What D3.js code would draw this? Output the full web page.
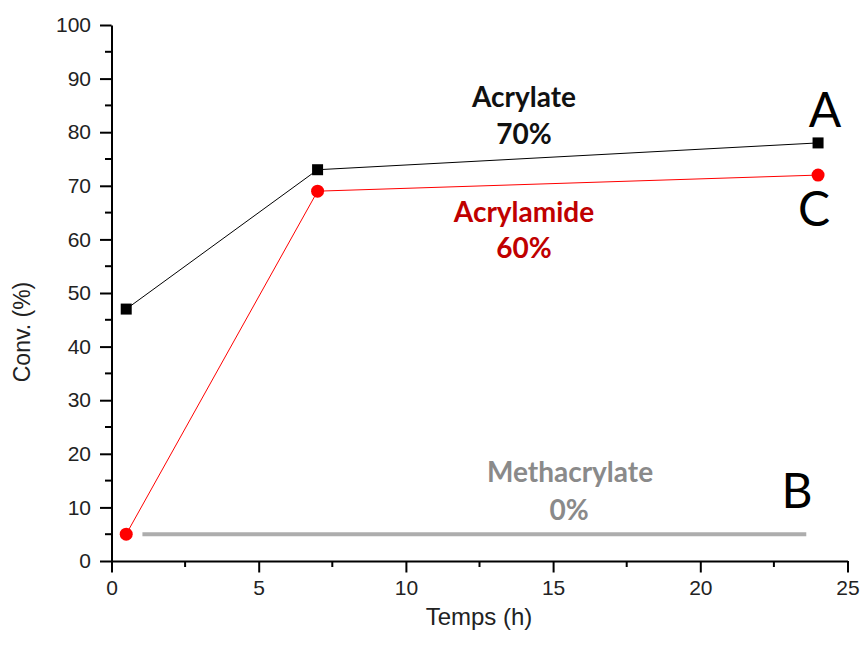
<!DOCTYPE html>
<html><head><meta charset="utf-8">
<script src="https://cdn.jsdelivr.net/npm/d3@7"></script>
<style>body{margin:0;background:#fff}</style>
</head><body>
<svg id="c" width="864" height="651"></svg>
<script>
const timesAcrylate = [0.5, 7, 24];
const convAcrylate = [47, 73, 78];
const timesAcrylamide = [0.5, 7, 24];
const convAcrylamide = [5, 69, 72];
const timesMethacrylate = [1.05, 23.6];
const convMethacrylate = [5, 5];
const xTicks = [0, 5, 10, 15, 20, 25];
const yTicks = [0, 10, 20, 30, 40, 50, 60, 70, 80, 90, 100];

const svg = d3.select("#c");
const x = d3.scaleLinear().domain([0, 25]).range([111.5, 847.5]);
const y = d3.scaleLinear().domain([0, 100]).range([561, 25]);
const font = "'Liberation Sans', Arial, sans-serif";
const lblFont = "Lato, 'Open Sans', sans-serif";

// minor ticks
const minorX = d3.range(2.5, 25, 5);
const minorY = d3.range(5, 100, 10);
svg.append("g").selectAll("line").data(minorX).join("line")
  .attr("x1", d => x(d)).attr("x2", d => x(d)).attr("y1", 561).attr("y2", 567)
  .attr("stroke", "#000").attr("stroke-width", 2);
svg.append("g").selectAll("line").data(minorY).join("line")
  .attr("y1", d => y(d)).attr("y2", d => y(d)).attr("x1", 111.5).attr("x2", 105)
  .attr("stroke", "#000").attr("stroke-width", 2);

const xAxis = svg.append("g").attr("transform", "translate(0,561)")
  .call(d3.axisBottom(x).tickValues(xTicks).tickSize(11.5).tickPadding(8).tickSizeOuter(0));
const yAxis = svg.append("g").attr("transform", "translate(111.5,0)")
  .call(d3.axisLeft(y).tickValues(yTicks).tickSize(11.5).tickPadding(9).tickSizeOuter(0));
[xAxis, yAxis].forEach(g => {
  g.select(".domain").attr("stroke", "#000").attr("stroke-width", 2);
  g.selectAll(".tick line").attr("stroke", "#000").attr("stroke-width", 2);
  g.selectAll(".tick text").attr("font-family", font).attr("font-size", 21).attr("fill", "#222");
});

svg.append("text").attr("x", 479).attr("y", 625).attr("text-anchor", "middle")
  .attr("font-family", font).attr("font-size", 24).attr("fill", "#222").text("Temps (h)");
svg.append("text").attr("transform", "translate(30,332) rotate(-90)").attr("text-anchor", "middle")
  .attr("font-family", font).attr("font-size", 23).attr("fill", "#222").text("Conv. (%)");

const line = d3.line().x(d => x(d[0])).y(d => y(d[1]));
const acr = timesAcrylate.map((t, i) => [t, convAcrylate[i]]);
const acm = timesAcrylamide.map((t, i) => [t, convAcrylamide[i]]);
const met = timesMethacrylate.map((t, i) => [t, convMethacrylate[i]]);

svg.append("path").datum(met).attr("d", line).attr("fill", "none")
  .attr("stroke", "#adadad").attr("stroke-width", 4);
svg.append("path").datum(acr).attr("d", line).attr("fill", "none")
  .attr("stroke", "#000").attr("stroke-width", 1);
svg.append("path").datum(acm).attr("d", line).attr("fill", "none")
  .attr("stroke", "#ff0000").attr("stroke-width", 1);

svg.append("g").selectAll("rect").data(acr).join("rect")
  .attr("x", d => x(d[0]) - 5.5).attr("y", d => y(d[1]) - 5.5).attr("width", 11).attr("height", 11)
  .attr("fill", "#000");
svg.append("g").selectAll("circle").data(acm).join("circle")
  .attr("cx", d => x(d[0])).attr("cy", d => y(d[1])).attr("r", 6.5).attr("fill", "#ff0000");

function lbl(txt, cx, cy, color, size, weight) {
  svg.append("text").attr("x", cx).attr("y", cy).attr("text-anchor", "middle")
    .attr("font-family", lblFont).attr("font-size", size).attr("font-weight", weight)
    .attr("fill", color).text(txt);
}
lbl("Acrylate", 524, 107, "#111", 28, "bold");
lbl("70%", 524, 144, "#111", 28, "bold");
lbl("Acrylamide", 524, 222, "#c00000", 28, "bold");
lbl("60%", 524, 258, "#c00000", 28, "bold");
lbl("Methacrylate", 570, 482, "#8a8a8a", 28, "bold");
lbl("0%", 569, 520, "#8a8a8a", 28, "bold");
lbl("A", 825, 127, "#000", 48, "normal");
lbl("C", 814, 226, "#000", 48, "normal");
lbl("B", 797, 508, "#000", 48, "normal");
</script>
</body></html>
